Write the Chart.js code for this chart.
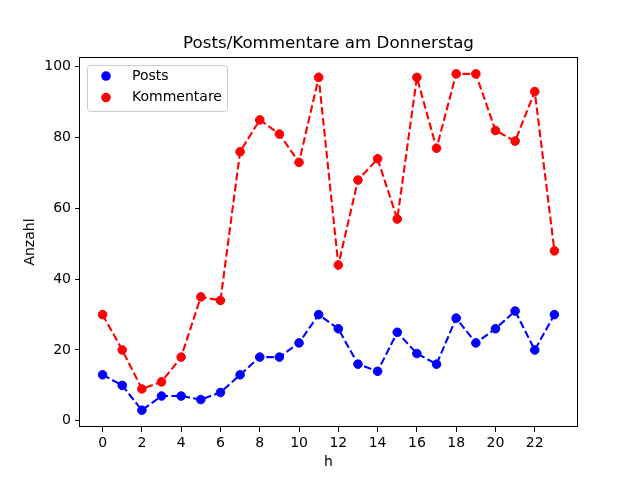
<!DOCTYPE html>
<html>
<head>
<meta charset="utf-8">
<script src="https://cdn.jsdelivr.net/npm/chart.js@4"></script>
<style>
  html, body { margin: 0; padding: 0; background: #fff; }
</style>
</head>
<body>
<canvas id="chart" width="640" height="480"></canvas>
<script>
  const hours = [0, 1, 2, 3, 4, 5, 6, 7, 8, 9, 10, 11, 12, 13, 14, 15, 16, 17, 18, 19, 20, 21, 22, 23];
  const posts = [13, 10, 3, 7, 7, 6, 8, 13, 18, 18, 22, 30, 26, 16, 14, 25, 19, 16, 29, 22, 26, 31, 20, 30];
  const kommentare = [30, 20, 9, 11, 18, 35, 34, 76, 85, 81, 73, 97, 44, 68, 74, 57, 97, 77, 98, 98, 82, 79, 93, 48];
  const xTicks = [0, 2, 4, 6, 8, 10, 12, 14, 16, 18, 20, 22];
  const yTicks = [0, 20, 40, 60, 80, 100];
  const seriesNames = ['Posts', 'Kommentare'];
  const seriesColors = ['#0000ff', '#ff0000'];

  const FONT = 'DejaVu Sans';

  function series(values, i) {
    return {
      label: seriesNames[i],
      data: hours.map((h, k) => ({ x: h, y: values[k] })),
      borderColor: seriesColors[i],
      backgroundColor: seriesColors[i],
      pointBackgroundColor: seriesColors[i],
      pointBorderColor: seriesColors[i],
      borderWidth: 2.1,
      borderDash: [7.7, 3.3],
      pointRadius: 4.3,
      pointBorderWidth: 1,
      tension: 0
    };
  }

  // full frame around the axes, like matplotlib spines
  const frame = {
    id: 'frame',
    afterDatasetsDraw(chart) {
      const { ctx, chartArea: a } = chart;
      ctx.save();
      ctx.strokeStyle = '#000';
      ctx.lineWidth = 1;
      ctx.strokeRect(Math.round(a.left) - 0.5, Math.round(a.top) + 0.5,
        Math.round(a.right - a.left) + 1, Math.round(a.bottom - a.top) - 1);
      ctx.restore();
    }
  };

  // legend box in the upper left of the plot
  const legendBox = {
    id: 'legendBox',
    afterDatasetsDraw(chart) {
      const { ctx, chartArea: a } = chart;
      const x = a.left + 7, y = a.top + 8, w = 140, h = 46, r = 3;
      ctx.save();
      ctx.beginPath();
      ctx.roundRect(x + 0.5, y + 0.5, w, h, r);
      ctx.fillStyle = 'rgba(255,255,255,0.8)';
      ctx.fill();
      ctx.strokeStyle = '#cccccc';
      ctx.lineWidth = 1;
      ctx.stroke();
      chart.data.datasets.forEach((ds, i) => {
        const cy = y + 11 + i * 21.5;
        ctx.beginPath();
        ctx.arc(x + 19, cy, 4.8, 0, Math.PI * 2);
        ctx.fillStyle = ds.borderColor;
        ctx.fill();
        ctx.fillStyle = '#000';
        ctx.font = '14px "' + FONT + '"';
        ctx.textBaseline = 'middle';
        ctx.textAlign = 'left';
        ctx.fillText(ds.label, x + 45, cy);
      });
      ctx.restore();
    }
  };

  new Chart(document.getElementById('chart'), {
    type: 'line',
    data: {
      datasets: [series(posts, 0), series(kommentare, 1)]
    },
    options: {
      responsive: false,
      animation: false,
      devicePixelRatio: 1,
      layout: { padding: { left: 0, right: 63, top: 0, bottom: 0 } },
      plugins: {
        legend: { display: false },
        tooltip: { enabled: false },
        title: {
          display: true,
          fullSize: false,
          text: 'Posts/Kommentare am Donnerstag',
          color: '#000',
          font: { family: FONT, size: 16.7, weight: 'normal', lineHeight: 1.2 },
          padding: { top: 34, bottom: 3 }
        }
      },
      scales: {
        x: {
          type: 'linear',
          min: -1.15,
          max: 24.15,
          afterBuildTicks: scale => { scale.ticks = xTicks.map(v => ({ value: v })); },
          afterFit: scale => { scale.height = 53; },
          border: { display: false },
          grid: { drawOnChartArea: false, drawTicks: true, tickLength: 5, color: '#000', lineWidth: 1 },
          ticks: { color: '#000', padding: 3, maxRotation: 0, font: { family: FONT, size: 14 } },
          title: {
            display: true, text: 'h', color: '#000',
            font: { family: FONT, size: 14, lineHeight: 1.2 },
            padding: { top: 0, bottom: 9.6 }
          }
        },
        y: {
          min: -1.75,
          max: 102.75,
          afterBuildTicks: scale => { scale.ticks = yTicks.map(v => ({ value: v })); },
          afterFit: scale => { scale.width = 80; },
          border: { display: false },
          grid: { drawOnChartArea: false, drawTicks: true, tickLength: 5, color: '#000', lineWidth: 1 },
          ticks: { color: '#000', padding: 4, font: { family: FONT, size: 14 } },
          title: {
            display: true, text: 'Anzahl', color: '#000',
            font: { family: FONT, size: 14, lineHeight: 1.2 },
            padding: { top: 21.6, bottom: 0 }
          }
        }
      }
    },
    plugins: [frame, legendBox]
  });
</script>
</body>
</html>
